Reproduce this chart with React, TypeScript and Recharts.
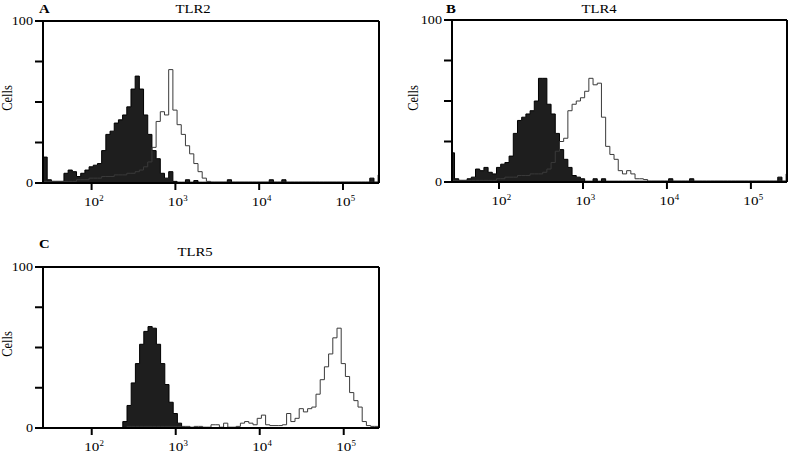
import React from "react";
import {
  ComposedChart,
  Area,
  Line,
  XAxis,
  YAxis,
  ReferenceLine,
} from "recharts";

// Bin start positions in log10 decades (step histogram).
const bins = [
  1.42, 1.47, 1.52, 1.57, 1.62, 1.67, 1.72, 1.77, 1.82, 1.87,
  1.92, 1.97, 2.02, 2.07, 2.12, 2.17, 2.22, 2.27, 2.32, 2.37,
  2.42, 2.47, 2.52, 2.57, 2.62, 2.67, 2.72, 2.77, 2.82, 2.87,
  2.92, 2.97, 3.02, 3.07, 3.12, 3.17, 3.22, 3.27, 3.32, 3.37,
  3.42, 3.47, 3.52, 3.57, 3.62, 3.67, 3.72, 3.77, 3.82, 3.87,
  3.92, 3.97, 4.02, 4.07, 4.12, 4.17, 4.22, 4.27, 4.32, 4.37,
  4.42, 4.47, 4.52, 4.57, 4.62, 4.67, 4.72, 4.77, 4.82, 4.87,
  4.92, 4.97, 5.02, 5.07, 5.12, 5.17, 5.22, 5.27, 5.32, 5.37,
  5.42,
];

const xTicks = [2, 3, 4, 5];
const yTicks = [0, 25, 50, 75, 100];

// TLR2 — isotype (filled) and antibody (outline)
const tlr2Iso = [
  16, 2, 1, 1, 1, 6, 8, 7, 4, 6,
  8, 10, 11, 12, 20, 30, 32, 37, 39, 42,
  47, 58, 66, 58, 42, 30, 20, 15, 6, 3,
  7, 1, 0.5, 0.5, 2, 0.5, 1.5, 0.5, 0.5, 0.5,
  0.5, 0.5, 0.5, 0.5, 2, 0.5, 0.5, 0.5, 0.5, 0.5,
  0.5, 0.5, 0.5, 0.5, 2, 0.5, 0.5, 2, 0.5, 0.5,
  0.5, 0.5, 0.5, 0.5, 0.5, 0.5, 0.5, 0.5, 0.5, 0.5,
  0.5, 0.5, 0.5, 0.5, 0.5, 0.5, 0.5, 0.5, 3, 0.5,
  5,
];
const tlr2Ab = [
  1, 1, 1, 1, 1, 1, 1, 1, 2, 2,
  2, 3, 3, 3, 4, 4, 4, 5, 5, 5,
  6, 6, 7, 8, 10, 13, 22, 38, 44, 42,
  70, 45, 36, 30, 23, 18, 12, 7, 3, 1,
  0.5, 0.5, 0.5, 0.5, 0.5, 0.5, 0.5, 0.5, 0.5, 0.5,
  0.5, 0.5, 0.5, 0.5, 0.5, 0.5, 0.5, 0.5, 0.5, 0.5,
  0.5, 0.5, 0.5, 0.5, 0.5, 0.5, 0.5, 0.5, 0.5, 0.5,
  0.5, 0.5, 0.5, 0.5, 0.5, 0.5, 0.5, 0.5, 0.5, 0.5,
  0.5,
];

// TLR4
const tlr4Iso = [
  18, 2, 1, 1, 2, 3, 8, 7, 9, 6,
  5, 9, 11, 12, 16, 30, 38, 40, 42, 44,
  50, 64, 64, 48, 42, 30, 20, 14, 9, 4,
  3, 2, 0.5, 0.5, 2, 0.5, 2, 0.5, 0.5, 0.5,
  0.5, 0.5, 0.5, 0.5, 0.5, 0.5, 0.5, 0.5, 0.5, 0.5,
  0.5, 0.5, 2, 0.5, 0.5, 0.5, 0.5, 2, 0.5, 0.5,
  0.5, 0.5, 0.5, 0.5, 0.5, 0.5, 0.5, 0.5, 0.5, 0.5,
  0.5, 0.5, 0.5, 0.5, 0.5, 0.5, 0.5, 0.5, 3, 0.5,
  5,
];
const tlr4Ab = [
  1, 1, 1, 1, 1, 1, 1, 1, 1, 1,
  1, 2, 2, 3, 3, 3, 4, 4, 4, 5,
  5, 5, 6, 8, 12, 19, 25, 27, 44, 48,
  50, 52, 56, 64, 60, 61, 40, 22, 17, 14,
  7, 5, 7, 5, 2, 2, 1.5, 0.5, 0.5, 0.5,
  0.5, 0.5, 0.5, 0.5, 0.5, 0.5, 0.5, 0.5, 0.5, 0.5,
  0.5, 0.5, 0.5, 0.5, 0.5, 0.5, 0.5, 0.5, 0.5, 0.5,
  0.5, 0.5, 0.5, 0.5, 0.5, 0.5, 0.5, 0.5, 0.5, 0.5,
  0.5,
];

// TLR5
const tlr5Iso = [
  0.3, 0.3, 0.3, 0.3, 0.3, 0.3, 0.3, 0.3, 0.3, 0.3,
  0.3, 0.3, 0.3, 0.3, 0.3, 0.3, 0.3, 0.3, 0.3, 4,
  14, 28, 40, 52, 60, 63, 62, 52, 40, 27,
  16, 9, 3, 0.5, 0.3, 0.3, 0.3, 0.3, 0.3, 0.3,
  0.3, 0.3, 0.3, 0.3, 0.3, 0.3, 0.3, 0.3, 0.3, 0.3,
  0.3, 0.3, 0.3, 0.3, 0.3, 0.3, 0.3, 0.3, 0.3, 0.3,
  0.3, 0.3, 0.3, 0.3, 0.3, 0.3, 0.3, 0.3, 0.3, 0.3,
  0.3, 0.3, 0.3, 0.3, 0.3, 0.3, 0.3, 0.3, 0.3, 0.3,
  0.3,
];
const tlr5Ab = [
  0.3, 0.3, 0.3, 0.3, 0.3, 0.3, 0.3, 0.3, 0.3, 0.3,
  0.3, 0.3, 0.3, 0.3, 0.3, 0.3, 0.3, 0.3, 0.3, 0.3,
  1, 1, 1, 1, 1, 1, 1, 1, 1, 1,
  1, 1, 1, 1, 1, 0.5, 1, 1, 0.5, 0.5,
  2, 2, 0.5, 3, 0.5, 0.5, 1, 3, 4, 3,
  2, 6, 8, 2, 1.5, 1.5, 1.5, 2, 9, 4,
  6, 12, 10, 12, 13, 21, 30, 38, 46, 56,
  62, 40, 32, 22, 17, 13, 4, 1.5, 1, 1,
  0.5,
];

const FONT = '"Liberation Serif", "Times New Roman", serif';
const STRETCH = "scale(1.18,1)";

const LogTick = ({ x, y, payload }: any) => (
  <g transform={`translate(${x},${y})`}>
    <text transform={STRETCH} x={0} y={14} textAnchor="middle" fontSize={12.8} fill="#000" fontFamily={FONT}>
      10
    </text>
    <text transform={STRETCH} x={6.6} y={9} fontSize={7.5} fill="#000" fontFamily={FONT}>
      {payload.value}
    </text>
  </g>
);

const YTick = ({ x, y, payload }: any) => {
  if (payload.value !== 0 && payload.value !== 100) return null;
  return (
    <g transform={`translate(${x},${y})`}>
      <text transform={STRETCH} x={0} y={0} dy="0.35em" textAnchor="end" fontSize={12} fill="#000" fontFamily={FONT}>
        {payload.value}
      </text>
    </g>
  );
};

const axisStroke = { stroke: "#000", strokeWidth: 2 };

function Histogram({
  iso,
  ab,
  domain,
  left,
  top,
  width,
  height,
  margin,
  yWidth,
  xHeight,
}: {
  iso: number[];
  ab: number[];
  domain: [number, number];
  left: number;
  top: number;
  width: number;
  height: number;
  margin: { top: number; right: number; bottom: number; left: number };
  yWidth: number;
  xHeight: number;
}) {
  const data = bins.map((x, i) => ({ x, iso: iso[i], ab: ab[i] }));
  return (
    <div style={{ position: "absolute", left, top }}>
      <ComposedChart width={width} height={height} data={data} margin={margin}>
        <XAxis
          dataKey="x"
          type="number"
          domain={domain}
          allowDataOverflow
          ticks={xTicks}
          interval={0}
          tick={(p: any) => <LogTick {...p} />}
          tickSize={7}
          tickMargin={2}
          height={xHeight}
          axisLine={axisStroke}
          tickLine={axisStroke}
        />
        <YAxis
          domain={[0, 100]}
          ticks={yTicks}
          interval={0}
          allowDataOverflow
          width={yWidth}
          tick={(p: any) => <YTick {...p} />}
          tickSize={8}
          tickMargin={2}
          axisLine={axisStroke}
          tickLine={axisStroke}
        />
        <YAxis
          yAxisId="r"
          orientation="right"
          width={1}
          domain={[0, 100]}
          tick={false}
          tickLine={false}
          axisLine={axisStroke}
        />
        <ReferenceLine y={100} stroke="#000" strokeWidth={2} />
        <Area
          type="stepAfter"
          dataKey="iso"
          stroke="#000"
          strokeWidth={1}
          fill="#1e1e1e"
          fillOpacity={1}
          isAnimationActive={false}
        />
        <Line
          type="stepAfter"
          dataKey="ab"
          stroke="#3a3a3a"
          strokeWidth={1}
          dot={false}
          isAnimationActive={false}
        />
      </ComposedChart>
    </div>
  );
}

function Titles() {
  const t = (x: number, y: number, s: string, bold = false, size = 12.5) => (
    <g transform={`translate(${x},${y}) ${STRETCH}`}>
      <text
        x={0}
        y={0}
        textAnchor={bold ? "start" : "middle"}
        fontSize={size}
        fontWeight={bold ? "bold" : "normal"}
        fill="#000"
        fontFamily={FONT}
      >
        {s}
      </text>
    </g>
  );
  const cells = (x: number, y: number) => (
    <g transform={`translate(${x},${y}) ${STRETCH} rotate(-90)`}>
      <text x={0} y={0} textAnchor="middle" fontSize={12.5} fill="#000" fontFamily={FONT}>
        Cells
      </text>
    </g>
  );
  return (
    <svg
      width={789}
      height={453}
      style={{ position: "absolute", left: 0, top: 0, pointerEvents: "none" }}
    >
      {t(39, 13, "A", true, 12.5)}
      {t(193, 13, "TLR2")}
      {cells(12, 98)}
      {t(446, 13, "B", true, 12.5)}
      {t(599, 13, "TLR4")}
      {cells(418, 98)}
      {t(39, 248, "C", true, 12.5)}
      {t(195, 256, "TLR5")}
      {cells(12, 344)}
    </svg>
  );
}

export default function App() {
  return (
    <div
      style={{
        position: "absolute",
        left: 0,
        top: 0,
        width: 789,
        height: 453,
        background: "#fff",
        fontFamily: FONT,
      }}
    >
      <Histogram
        iso={tlr2Iso}
        ab={tlr2Ab}
        domain={[1.42, 5.43]}
        left={0}
        top={0}
        width={390}
        height={210}
        margin={{ top: 21, right: 10, bottom: 0, left: 0 }}
        yWidth={43}
        xHeight={27}
      />
      <Histogram
        iso={tlr4Iso}
        ab={tlr4Ab}
        domain={[1.44, 5.43]}
        left={400}
        top={0}
        width={389}
        height={210}
        margin={{ top: 20, right: 1, bottom: 0, left: 0 }}
        yWidth={52}
        xHeight={28}
      />
      <Histogram
        iso={tlr5Iso}
        ab={tlr5Ab}
        domain={[1.42, 5.42]}
        left={0}
        top={245}
        width={390}
        height={208}
        margin={{ top: 22, right: 10, bottom: 0, left: 0 }}
        yWidth={43}
        xHeight={25}
      />
      <Titles />
    </div>
  );
}
